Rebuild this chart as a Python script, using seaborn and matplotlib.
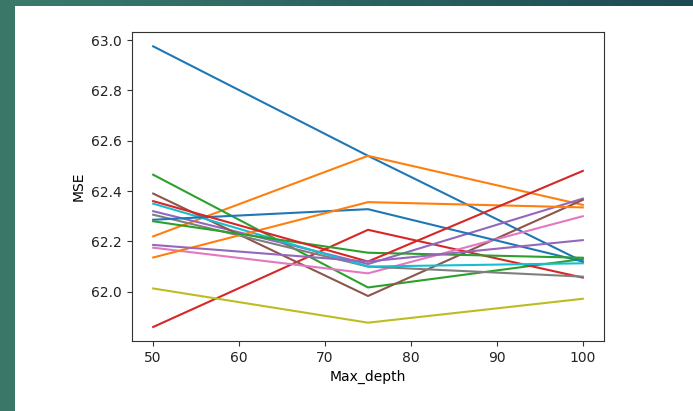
import numpy as np
import pandas as pd
import matplotlib
matplotlib.use("Agg")
import matplotlib.pyplot as plt
from matplotlib.patches import Rectangle
from matplotlib.colors import LinearSegmentedColormap
import seaborn as sns

max_depth = [50, 75, 100]
series_names = ["s01", "s02", "s03", "s04", "s05", "s06", "s07", "s08",
                "s09", "s10", "s11", "s12", "s13", "s14", "s15"]
s01 = [62.975, 62.540, 62.120]
s02 = [62.220, 62.540, 62.345]
s03 = [62.465, 62.017, 62.130]
s04 = [61.860, 62.246, 62.056]
s05 = [62.320, 62.110, 62.370]
s06 = [62.390, 61.983, 62.365]
s07 = [62.175, 62.073, 62.300]
s08 = [62.306, 62.100, 62.060]
s09 = [62.013, 61.877, 61.972]
s10 = [62.350, 62.100, 62.113]
s11 = [62.286, 62.328, 62.120]
s12 = [62.136, 62.356, 62.335]
s13 = [62.280, 62.155, 62.135]
s14 = [62.360, 62.120, 62.480]
s15 = [62.186, 62.120, 62.205]
all_series = [s01, s02, s03, s04, s05, s06, s07, s08, s09, s10,
              s11, s12, s13, s14, s15]

rows = []
for name, vals in zip(series_names, all_series):
    for d, v in zip(max_depth, vals):
        rows.append({"Max_depth": d, "MSE": v, "run": name})
df = pd.DataFrame(rows)

W, H = 693, 411
fig = plt.figure(figsize=(W / 100, H / 100), dpi=100, facecolor="white")

# slide-like border: left teal strip and top gradient strip
fig.patches.append(Rectangle((0, 0), 15 / W, 1, transform=fig.transFigure,
                             facecolor="#3a7769", edgecolor="none", zorder=0))
top_ax = fig.add_axes([0, 1 - 6 / H, 1, 6 / H])
cmap = LinearSegmentedColormap.from_list("band", ["#3b7a6b", "#2a6461", "#1c4a53"])
top_ax.imshow(np.linspace(0, 1, 256)[None, :], aspect="auto", cmap=cmap)
top_ax.set_axis_off()

ax = fig.add_axes([131.7 / W, (H - 341) / H, (604.3 - 131.7) / W, (341 - 32.3) / H])
palette = sns.color_palette("tab10", 10)
palette = [palette[i % 10] for i in range(len(series_names))]
sns.lineplot(data=df, x="Max_depth", y="MSE", hue="run", palette=palette,
             legend=False, ax=ax, linewidth=1.5)
ax.set_xticks([50, 60, 70, 80, 90, 100])
ax.set_yticks([62.0, 62.2, 62.4, 62.6, 62.8, 63.0])
ax.set_yticklabels(["62.0", "62.2", "62.4", "62.6", "62.8", "63.0"])
ax.tick_params(labelsize=10, colors="#333333", labelcolor="#222222")
ax.set_xlabel("Max_depth", fontsize=10)
ax.set_ylabel("MSE", fontsize=10)
for sp in ax.spines.values():
    sp.set_color("#333333")

fig.savefig("out.png", dpi=100, facecolor="white")
